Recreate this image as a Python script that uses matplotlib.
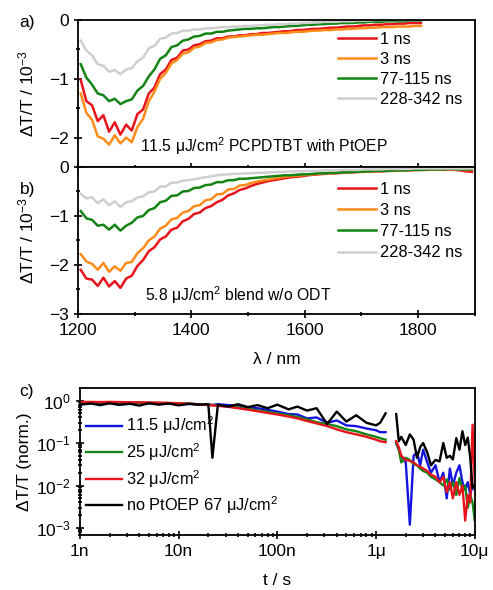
import numpy as np
import matplotlib
matplotlib.use("Agg")
import matplotlib.pyplot as plt
from matplotlib.ticker import MultipleLocator, LogLocator, FixedLocator, FixedFormatter, NullFormatter

plt.rcParams['font.family'] = ['Liberation Sans', 'DejaVu Sans']
plt.rcParams['mathtext.fontset'] = 'custom'
plt.rcParams['mathtext.rm'] = 'Liberation Sans'
plt.rcParams['mathtext.it'] = 'Liberation Sans:italic'
plt.rcParams['mathtext.bf'] = 'Liberation Sans:bold'

# spectra, sampled every 10 nm starting at 1205 nm
WL_START = 1205
WL_STEP = 10

# panel a: 11.5 uJ/cm2 PCPDTBT with PtOEP
red_a = [-1.02, -1.38, -1.45, -1.72, -1.62, -1.90, -1.74, -1.95, -1.78, -1.88,
         -1.60, -1.52, -1.25, -1.15, -0.92, -0.84, -0.68, -0.64, -0.52, -0.50,
         -0.43, -0.41, -0.36, -0.35, -0.31, -0.31, -0.28, -0.28, -0.26, -0.26,
         -0.24, -0.24, -0.22, -0.22, -0.21, -0.20, -0.19, -0.19, -0.17, -0.17,
         -0.16, -0.15, -0.15, -0.14, -0.13, -0.13, -0.12, -0.11, -0.11, -0.10,
         -0.09, -0.09, -0.08, -0.08, -0.07, -0.07, -0.06, -0.06, -0.05, -0.05, -0.05]
orange_a = [-1.25, -1.58, -1.70, -1.98, -2.02, -2.12, -1.96, -2.10, -2.00, -2.08,
            -1.82, -1.68, -1.38, -1.22, -1.00, -0.90, -0.74, -0.68, -0.57, -0.55,
            -0.47, -0.45, -0.39, -0.38, -0.34, -0.33, -0.30, -0.29, -0.28, -0.27,
            -0.26, -0.25, -0.25, -0.24, -0.23, -0.22, -0.22, -0.21, -0.20, -0.20,
            -0.19, -0.18, -0.18, -0.17, -0.17, -0.16, -0.16, -0.15, -0.15, -0.14,
            -0.14, -0.13, -0.13, -0.12, -0.12, -0.12, -0.11, -0.11, -0.11, -0.10, -0.10]
green_a = [-0.75, -0.98, -1.10, -1.25, -1.28, -1.38, -1.34, -1.43, -1.38, -1.35,
           -1.20, -1.12, -0.96, -0.84, -0.66, -0.60, -0.46, -0.43, -0.35, -0.33,
           -0.28, -0.27, -0.23, -0.23, -0.20, -0.20, -0.18, -0.17, -0.16, -0.15,
           -0.15, -0.14, -0.14, -0.13, -0.12, -0.12, -0.11, -0.10, -0.10, -0.09,
           -0.08, -0.08, -0.07, -0.07, -0.06, -0.06, -0.05, -0.05, -0.05, -0.04,
           -0.04, -0.03, -0.03, -0.03, -0.02, -0.02, -0.02, -0.02, -0.01, -0.01, -0.01]
gray_a = [-0.35, -0.52, -0.60, -0.75, -0.78, -0.88, -0.85, -0.92, -0.84, -0.82,
          -0.70, -0.64, -0.48, -0.44, -0.32, -0.30, -0.23, -0.22, -0.18, -0.18,
          -0.16, -0.16, -0.14, -0.14, -0.13, -0.12, -0.12, -0.11, -0.11, -0.10,
          -0.10, -0.09, -0.09, -0.08, -0.08, -0.07, -0.07, -0.06, -0.06, -0.05,
          -0.05, -0.04, -0.04, -0.03, -0.03, -0.03, -0.02, -0.02, -0.02, -0.01,
          -0.01, -0.01, 0.0, 0.0, 0.0, 0.0, 0.0, 0.0, 0.0, 0.0, 0.0]

# panel b: 5.8 uJ/cm2 blend w/o ODT
red_b = [-2.10, -2.28, -2.30, -2.43, -2.26, -2.44, -2.33, -2.47, -2.28, -2.22,
         -2.02, -1.90, -1.72, -1.64, -1.48, -1.42, -1.28, -1.24, -1.11, -1.06,
         -0.96, -0.93, -0.84, -0.80, -0.72, -0.67, -0.58, -0.54, -0.47, -0.44,
         -0.39, -0.35, -0.32, -0.29, -0.27, -0.25, -0.23, -0.21, -0.20, -0.19,
         -0.17, -0.16, -0.15, -0.14, -0.13, -0.13, -0.12, -0.11, -0.11, -0.10,
         -0.10, -0.09, -0.09, -0.09, -0.08, -0.08, -0.07, -0.07, -0.07, -0.06,
         -0.06, -0.06, -0.05, -0.05, -0.06, -0.05, -0.06, -0.07, -0.09, -0.10]
orange_b = [-1.78, -1.93, -1.98, -2.10, -1.96, -2.14, -2.03, -2.12, -1.96, -1.94,
            -1.76, -1.66, -1.50, -1.42, -1.26, -1.20, -1.07, -1.04, -0.93, -0.90,
            -0.80, -0.78, -0.68, -0.66, -0.56, -0.55, -0.46, -0.45, -0.38, -0.37,
            -0.33, -0.30, -0.28, -0.26, -0.24, -0.22, -0.20, -0.19, -0.18, -0.17,
            -0.16, -0.15, -0.14, -0.13, -0.13, -0.12, -0.11, -0.11, -0.10, -0.10,
            -0.09, -0.09, -0.08, -0.08, -0.08, -0.07, -0.07, -0.07, -0.06, -0.06,
            -0.06, -0.05, -0.05, -0.05, -0.05, -0.04, -0.05, -0.05, -0.06, -0.06]
green_b = [-0.90, -1.05, -1.08, -1.20, -1.18, -1.28, -1.18, -1.30, -1.20, -1.14,
           -1.03, -1.00, -0.88, -0.84, -0.72, -0.69, -0.59, -0.58, -0.50, -0.49,
           -0.43, -0.42, -0.37, -0.36, -0.31, -0.31, -0.27, -0.27, -0.24, -0.24,
           -0.23, -0.22, -0.21, -0.20, -0.19, -0.18, -0.17, -0.17, -0.16, -0.15,
           -0.15, -0.14, -0.13, -0.13, -0.12, -0.12, -0.11, -0.11, -0.10, -0.10,
           -0.09, -0.09, -0.08, -0.08, -0.08, -0.07, -0.07, -0.07, -0.06, -0.06,
           -0.06, -0.05, -0.05, -0.05, -0.05, -0.04, -0.04, -0.05, -0.05, -0.05]
gray_b = [-0.55, -0.64, -0.62, -0.74, -0.66, -0.78, -0.70, -0.82, -0.72, -0.70,
          -0.62, -0.60, -0.52, -0.50, -0.40, -0.40, -0.32, -0.32, -0.28, -0.27,
          -0.25, -0.23, -0.21, -0.19, -0.17, -0.16, -0.15, -0.14, -0.14, -0.13,
          -0.13, -0.12, -0.12, -0.11, -0.11, -0.10, -0.10, -0.09, -0.09, -0.09,
          -0.08, -0.08, -0.08, -0.07, -0.07, -0.07, -0.06, -0.06, -0.06, -0.06,
          -0.05, -0.05, -0.05, -0.05, -0.04, -0.04, -0.04, -0.04, -0.04, -0.03,
          -0.03, -0.03, -0.03, -0.03, -0.03, -0.03, -0.03, -0.03, -0.03, -0.03]

spec_labels = ['1 ns', '3 ns', '77-115 ns', '228-342 ns']
spec_colors = ['#e8141c', '#ff8c1a', '#148414', '#cfcfcf']

# panel c: normalised decays, two time windows
t1 = [1e-9, 1.3e-9, 1.6e-9, 2e-9, 2.5e-9, 3.2e-9, 4e-9, 5e-9, 6.3e-9, 8e-9,
      1e-8, 1.3e-8, 1.6e-8, 2e-8, 2.2e-8, 2.5e-8, 3.2e-8, 4e-8, 5e-8, 6.3e-8,
      8e-8, 1e-7, 1.3e-7, 1.6e-7, 2e-7, 2.5e-7, 3.2e-7, 4e-7, 5e-7, 6.3e-7,
      8e-7, 1e-6, 1.1e-6, 1.25e-6]
blue_c1 = [0.88, 0.89, 0.88, 0.87, 0.88, 0.87, 0.86, 0.87, 0.85, 0.85,
           0.84, 0.83, 0.81, 0.80, 0.79, 0.82, 0.78, 0.76, 0.70, 0.66,
           0.60, 0.55, 0.48, 0.47, 0.38, 0.40, 0.30, 0.34, 0.26, 0.25,
           0.22, 0.20, 0.18, 0.18]
green_c1 = [0.90, 0.91, 0.90, 0.91, 0.90, 0.90, 0.89, 0.89, 0.88, 0.87,
            0.86, 0.84, 0.82, 0.80, 0.78, 0.76, 0.73, 0.69, 0.64, 0.59,
            0.54, 0.50, 0.45, 0.41, 0.36, 0.31, 0.28, 0.25, 0.21, 0.19,
            0.16, 0.14, 0.13, 0.12]
red_c1 = [0.92, 0.93, 0.92, 0.93, 0.92, 0.91, 0.91, 0.90, 0.89, 0.88,
          0.86, 0.84, 0.81, 0.78, 0.77, 0.75, 0.71, 0.66, 0.61, 0.56,
          0.51, 0.47, 0.42, 0.38, 0.33, 0.29, 0.25, 0.21, 0.18, 0.16,
          0.14, 0.12, 0.11, 0.105]
black_c1 = [0.80, 0.85, 0.78, 0.86, 0.79, 0.84, 0.76, 0.86, 0.80, 0.85,
            0.77, 0.84, 0.80, 0.82, 0.045, 0.80, 0.72, 0.82, 0.70, 0.78,
            0.66, 0.80, 0.62, 0.72, 0.58, 0.66, 0.28, 0.55, 0.32, 0.45,
            0.30, 0.26, 0.30, 0.50]

t2 = [1.6e-6, 1.7e-6, 1.8e-6, 2.0e-6, 2.2e-6, 2.4e-6, 2.6e-6, 2.8e-6, 3.0e-6, 3.3e-6,
      3.6e-6, 4.0e-6, 4.4e-6, 4.8e-6, 5.2e-6, 5.6e-6, 6.0e-6, 6.5e-6, 7.0e-6, 7.5e-6,
      8.0e-6, 8.5e-6, 9.0e-6, 9.5e-6, 1.0e-5]
blue_c2 = [0.10, 0.07, 0.05, 0.035, 0.0012, 0.05, 0.06, 0.03, 0.07, 0.035,
           0.02, 0.03, 0.012, 0.02, 0.005, 0.025, 0.01, 0.02, 0.03, 0.012,
           0.008, 0.012, 0.006, 0.01, 0.008]
green_c2 = [0.10, 0.07, 0.035, 0.045, 0.04, 0.032, 0.03, 0.025, 0.022, 0.02,
            0.016, 0.014, 0.012, 0.01, 0.014, 0.008, 0.012, 0.006, 0.015, 0.008,
            0.01, 0.003, 0.006, 0.004, 0.0015]
red_c2 = [0.11, 0.08, 0.05, 0.04, 0.038, 0.035, 0.03, 0.028, 0.025, 0.022,
          0.018, 0.016, 0.012, 0.016, 0.007, 0.012, 0.005, 0.012, 0.006, 0.01,
          0.0015, 0.006, 0.004, 0.27, 0.012]
black_c2 = [0.48, 0.11, 0.14, 0.09, 0.16, 0.12, 0.045, 0.08, 0.10, 0.06,
            0.03, 0.04, 0.037, 0.10, 0.045, 0.05, 0.041, 0.13, 0.07, 0.19,
            0.09, 0.134, 0.045, 0.0087, 0.0104]

decay_labels = ['11.5 \u03bcJ/cm$^2$', '25 \u03bcJ/cm$^2$', '32 \u03bcJ/cm$^2$',
                'no PtOEP 67 \u03bcJ/cm$^2$']
decay_colors = ['#1414e0', '#148414', '#e8141c', '#000000']
t_ticks = [1e-9, 1e-8, 1e-7, 1e-6, 1e-5]
t_ticklabels = ['1n', '10n', '100n', '1\u03bc', '10\u03bc']

FS = 12.5


def wl(series):
    return WL_START + WL_STEP * np.arange(len(series))


def style_spec_axis(ax, ymin, yticks):
    ax.set_xlim(1200, 1900)
    ax.set_ylim(ymin, 0)
    ax.set_yticks(yticks)
    ax.yaxis.set_minor_locator(MultipleLocator(0.5))
    ax.xaxis.set_major_locator(MultipleLocator(200))
    ax.xaxis.set_minor_locator(MultipleLocator(100))
    ax.tick_params(which='both', direction='inout', labelsize=FS, width=1.2)
    ax.tick_params(which='major', length=6)
    ax.tick_params(which='minor', length=3)
    ax.set_ylabel('\u0394T/T / 10$^{-3}$', fontsize=FS)
    ax.yaxis.set_label_coords(-0.105, 0.5)
    for s in ax.spines.values():
        s.set_linewidth(1.3)


fig = plt.figure(figsize=(4.93, 5.90), dpi=100)
ax_a = fig.add_axes([0.158, 0.717, 0.805, 0.249])
ax_b = fig.add_axes([0.158, 0.468, 0.805, 0.249])
ax_c = fig.add_axes([0.162, 0.093, 0.801, 0.249])

leg_kw = dict(loc='upper left', frameon=False, fontsize=11.8, handlelength=2.3,
              handletextpad=0.25, borderpad=0, borderaxespad=0)

for ys, lab, col in zip([red_a, orange_a, green_a, gray_a], spec_labels, spec_colors):
    ax_a.plot(wl(ys), ys, color=col, lw=1.8, label=lab)
style_spec_axis(ax_a, -2.5, [0, -1, -2])
ax_a.tick_params(axis='x', labelbottom=False)
ax_a.legend(bbox_to_anchor=(0.655, 0.92), labelspacing=0.3, **leg_kw)
ax_a.text(0.47, 0.14, '11.5 \u03bcJ/cm$^2$ PCPDTBT with PtOEP', transform=ax_a.transAxes,
          ha='center', va='center', fontsize=11.3)

for ys, lab, col in zip([red_b, orange_b, green_b, gray_b], spec_labels, spec_colors):
    ax_b.plot(wl(ys), ys, color=col, lw=1.8, label=lab)
style_spec_axis(ax_b, -3, [0, -1, -2, -3])
ax_b.set_xlabel('\u03bb / nm', fontsize=FS, labelpad=10)
ax_b.legend(bbox_to_anchor=(0.655, 0.9), labelspacing=0.38, **leg_kw)
ax_b.text(0.405, 0.13, '5.8 \u03bcJ/cm$^2$ blend w/o ODT', transform=ax_b.transAxes,
          ha='center', va='center', fontsize=11.3)

for y1, y2, lab, col in zip([blue_c1, green_c1, red_c1, black_c1],
                            [blue_c2, green_c2, red_c2, black_c2],
                            decay_labels, decay_colors):
    ax_c.plot(t1, y1, color=col, lw=1.7, label=lab)
    ax_c.plot(t2, y2, color=col, lw=1.7)
ax_c.set_xscale('log')
ax_c.set_yscale('log')
ax_c.set_xlim(1e-9, 1e-5)
ax_c.set_ylim(6.8e-4, 1.95)
ax_c.xaxis.set_major_locator(FixedLocator(t_ticks))
ax_c.xaxis.set_major_formatter(FixedFormatter(t_ticklabels))
ax_c.xaxis.set_minor_locator(LogLocator(base=10, subs=np.arange(2, 10), numticks=20))
ax_c.xaxis.set_minor_formatter(NullFormatter())
ax_c.yaxis.set_major_locator(LogLocator(base=10, numticks=10))
ax_c.yaxis.set_minor_locator(LogLocator(base=10, subs=np.arange(2, 10), numticks=20))
ax_c.yaxis.set_minor_formatter(NullFormatter())
ax_c.tick_params(which='both', direction='inout', labelsize=FS, width=1.2)
ax_c.tick_params(which='major', length=6)
ax_c.tick_params(which='minor', length=3)
for s in ax_c.spines.values():
    s.set_linewidth(1.3)
ax_c.set_xlabel('t / s', fontsize=FS, labelpad=10)
ax_c.set_ylabel('\u0394T/T (norm.)', fontsize=FS)
ax_c.yaxis.set_label_coords(-0.12, 0.5)
ax_c.legend(bbox_to_anchor=(0.015, 0.82), labelspacing=0.3,
            **dict(leg_kw, handlelength=2.2))

fig.text(0.04, 0.955, 'a)', fontsize=FS)
fig.text(0.04, 0.672, 'b)', fontsize=FS)
fig.text(0.04, 0.328, 'c)', fontsize=FS)

fig.savefig('out.png', dpi=100)
